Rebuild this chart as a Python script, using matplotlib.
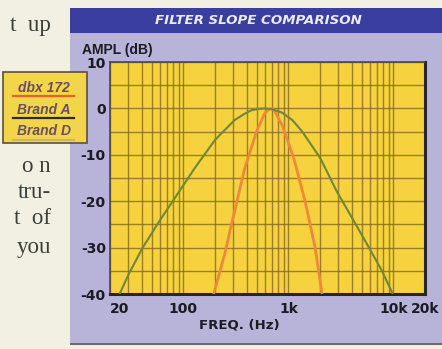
import numpy as np
import matplotlib
matplotlib.use('Agg')
import matplotlib.pyplot as plt
from matplotlib.patches import Rectangle
from matplotlib.lines import Line2D
from matplotlib.ticker import FixedLocator, NullFormatter

# values
dbx_freq = [194, 247, 277, 384, 497, 594, 650, 690, 740, 871, 1123, 1443, 1797, 2090]
dbx_db = [-40, -31.5, -26.5, -12.9, -5.0, -1.1, -0.2, 0.0, -0.6, -3.6, -10.7, -20.0, -30.0, -40]

brand_d_freq = [24.7, 30, 41, 59, 83, 128, 200, 308, 380, 444, 520, 600, 700, 870,
                1100, 1355, 2010, 2890, 4040, 5850, 7780, 9870]
brand_d_db = [-40, -35.8, -30.0, -24.3, -19.3, -12.9, -6.8, -2.5, -1.2, -0.4, -0.1, 0.0,
              -0.2, -0.9, -2.6, -5.0, -10.7, -17.9, -23.6, -30.0, -35.0, -40]

xtick_vals = [20, 100, 1000, 10000, 20000]
xtick_labels = ['20', '100', '1k', '10k', '20k']
ytick_vals = [10, 0, -10, -20, -30, -40]

legend_names = ['dbx 172', 'Brand A', 'Brand D']
legend_colors = ['#e8602a', '#2e2a20', '#a6a860']

article_lines = ['t  up', 'o n', 'tru-', 't  of', 'you']

W, H = 442, 349
fig = plt.figure(figsize=(W / 100, H / 100), dpi=100)
fig.patch.set_facecolor('#f2efe3')


def px(x):
    return x / W


def py(y):
    return 1 - y / H


def box(x0, y0, x1, y1, z=-1, **kw):
    fig.patches.append(Rectangle((px(x0), py(y1)), px(x1) - px(x0), py(y0) - py(y1),
                                 transform=fig.transFigure, zorder=z, **kw))


# chart panel + title bar
box(70, 8, 442, 343, facecolor='#b8b4d9', edgecolor='none')
box(70, 8, 442, 33, facecolor='#3a3e9e', edgecolor='none')
box(70, 343, 442, 345, facecolor='#6c6a70', edgecolor='none')
fig.text(px(258), py(21), 'FILTER SLOPE COMPARISON', color='#ececf4',
         fontsize=9.6, fontweight='bold', style='italic',
         ha='center', va='center', family='DejaVu Sans')

narrow = ['Liberation Sans Narrow', 'DejaVu Sans']
fig.text(px(82), py(50), 'AMPL (dB)', fontsize=10, fontweight='bold',
         color='#1c1a22', ha='left', va='center', family='Liberation Sans')

# article text on the left
art_y = [25, 167, 193, 218, 247]
for s, yy in zip(article_lines, art_y):
    fig.text(px(51), py(yy), s, fontsize=16.5, color='#3c4038', ha='right',
             va='center', family='Liberation Serif')

# little legend box, outside the panel
box(3, 72, 87, 143, z=1, facecolor='#f2d54a', edgecolor='#5a5040', linewidth=1.2)
leg_y = [88, 110, 131]
line_y = [96, 118, 140]
for name, c, ty, ly in zip(legend_names, legend_colors, leg_y, line_y):
    fig.text(px(44), py(ty), name, fontsize=10, fontweight='bold', style='italic',
             color='#6a4e62', ha='center', va='center', family='Liberation Sans', zorder=3)
    fig.lines.append(Line2D([px(13), px(74)], [py(ly), py(ly)], color=c, lw=1.6,
                            transform=fig.transFigure, zorder=3,
                            alpha=0.55 if name == 'Brand D' else 1))

ax = fig.add_axes([px(110), py(294), px(425) - px(110), py(62) - py(294)])
ax.set_zorder(5)
ax.set_facecolor('#f5d23e')
ax.set_xscale('log')
ax.set_xlim(20, 20000)
ax.set_ylim(-40, 10)

ax.plot(dbx_freq, dbx_db, color='#f0883c', lw=2.0, zorder=3, label='dbx 172')
ax.plot(brand_d_freq, brand_d_db, color='#6e8838', lw=1.5, zorder=3, label='Brand D')

ax.xaxis.set_major_locator(FixedLocator(xtick_vals))
minor = [m * d for d in [10, 100, 1000, 10000] for m in range(1, 10)]
ax.xaxis.set_minor_locator(FixedLocator([v for v in minor if 20 < v < 20000]))
ax.xaxis.set_minor_formatter(NullFormatter())
ax.set_xticklabels(xtick_labels)
ax.set_yticks(ytick_vals)
ax.set_yticks(np.arange(-35, 10, 10), minor=True)
ax.set_yticklabels([str(v) for v in ytick_vals])

ax.grid(which='both', color='#86691e', lw=1.0, alpha=0.8)
ax.set_axisbelow(True)
ax.tick_params(which='both', length=0, pad=3)
for lab in ax.get_xticklabels() + ax.get_yticklabels():
    lab.set_fontweight('bold')
    lab.set_fontsize(10)
    lab.set_color('#1c1a22')
    lab.set_family(narrow)
ax.get_xticklabels()[0].set_ha('left')
ax.tick_params(axis='x', pad=6)

for side in ['left', 'top']:
    ax.spines[side].set_color('#4a4a40')
    ax.spines[side].set_linewidth(1.2)
for side in ['right', 'bottom']:
    ax.spines[side].set_color('#262624')
    ax.spines[side].set_linewidth(2.2)

ax.text(0.41, -0.135, 'FREQ. (Hz)', transform=ax.transAxes, fontsize=9.5,
        fontweight='bold', color='#1c1a22', ha='center', va='center', family=narrow)

plt.savefig('out.png', dpi=100, facecolor=fig.get_facecolor())
